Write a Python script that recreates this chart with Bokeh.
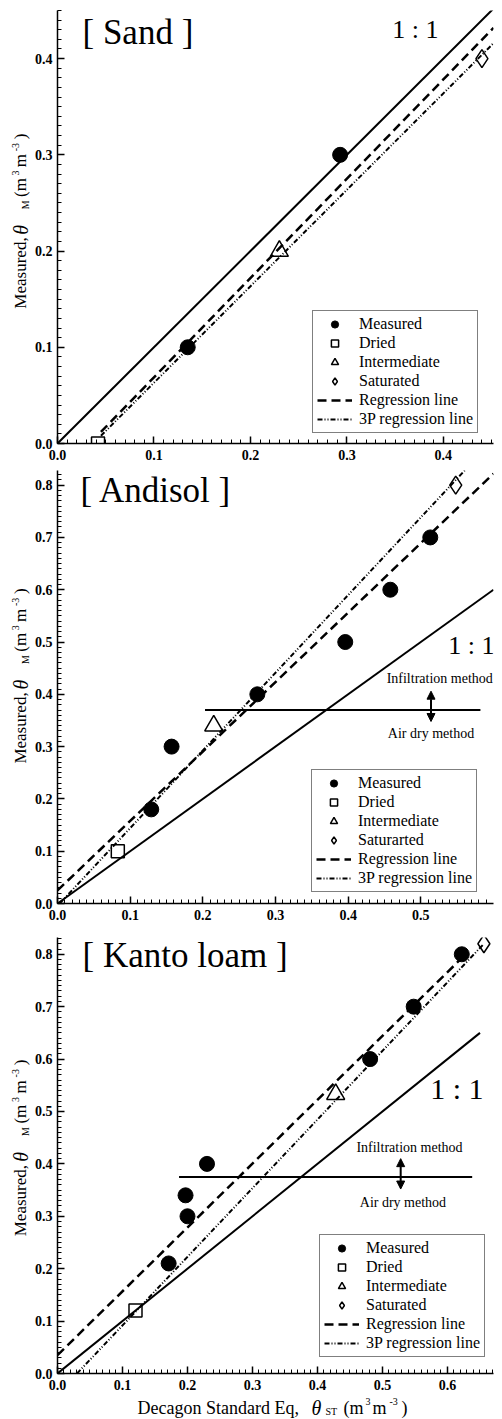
import math
from bokeh.plotting import figure
from bokeh.layouts import column, row
from bokeh.models import (Label, Legend, LegendItem, SingleIntervalTicker,
                          PrintfTickFormatter, Arrow, NormalHead)
from bokeh.embed import file_html
from bokeh.resources import INLINE

SERIF = "Liberation Serif"

# ---------------- data ----------------
# Sand
sand_meas_x = [0.135, 0.293]
sand_meas_y = [0.10, 0.30]
sand_dried_x = [0.042]
sand_dried_y = [0.0]
sand_inter_x = [0.230]
sand_inter_y = [0.20]
sand_sat_x = [0.440]
sand_sat_y = [0.40]
sand_one_x = [0.0, 0.452]
sand_one_y = [0.0, 0.452]
sand_reg_x = [0.045, 0.452]
sand_reg_y = [0.012, 0.432]
sand_3p_x = [0.045, 0.452]
sand_3p_y = [0.008, 0.416]

# Andisol
andi_meas_x = [0.129, 0.157, 0.275, 0.396, 0.458, 0.513]
andi_meas_y = [0.18, 0.30, 0.40, 0.50, 0.60, 0.70]
andi_dried_x = [0.083]
andi_dried_y = [0.10]
andi_inter_x = [0.215]
andi_inter_y = [0.34]
andi_sat_x = [0.548]
andi_sat_y = [0.80]
andi_one_x = [0.0, 0.6]
andi_one_y = [0.0, 0.6]
andi_reg_x = [0.0, 0.6]
andi_reg_y = [0.025, 0.822]
andi_3p_x = [0.003, 0.565]
andi_3p_y = [0.0, 0.835]
andi_hline_x = [0.203, 0.582]
andi_hline_y = [0.370, 0.370]

# Kanto loam
kanto_meas_x = [0.171, 0.197, 0.200, 0.230, 0.481, 0.548, 0.622]
kanto_meas_y = [0.21, 0.34, 0.30, 0.40, 0.60, 0.70, 0.80]
kanto_dried_x = [0.120]
kanto_dried_y = [0.12]
kanto_inter_x = [0.428]
kanto_inter_y = [0.533]
kanto_sat_x = [0.656]
kanto_sat_y = [0.82]
kanto_one_x = [0.0, 0.65]
kanto_one_y = [0.0, 0.65]
kanto_reg_x = [0.0, 0.632]
kanto_reg_y = [0.035, 0.805]
kanto_3p_x = [0.030, 0.656]
kanto_3p_y = [0.0, 0.82]
kanto_hline_x = [0.187, 0.638]
kanto_hline_y = [0.375, 0.375]

legend_labels_std = ["Measured", "Dried", "Intermediate", "Saturated",
                     "Regression line", "3P regression line"]
legend_labels_andi = ["Measured", "Dried", "Intermediate", "Saturarted",
                      "Regression line", "3P regression line"]

YLAB_W = 30
LEFT = 57
RIGHT = 9
W = 502


def blank_fig(width, height):
    f = figure(width=width, height=height, x_range=(0, width), y_range=(0, height),
               output_backend="svg", toolbar_location=None,
               x_axis_type=None, y_axis_type=None,
               min_border=0, min_border_left=0, min_border_right=0,
               min_border_top=0, min_border_bottom=0,
               background_fill_color="white", border_fill_color="white")
    f.outline_line_color = None
    f.xgrid.visible = False
    f.ygrid.visible = False
    return f


def ylabel_fig(height, top, bottom):
    f = blank_fig(YLAB_W, height)
    fh = height - top - bottom
    cy = top + fh / 2.0  # local y (from top) of frame centre
    # (text, px size, style, centre offset below frame centre, x centre)
    pieces = [("Measured,", 17, "normal", 56, 20),
              ("\u03b8", 20, "italic", 9.5, 20),
              ("M", 10, "normal", -17.5, 25),
              ("(m", 17, "normal", -36, 20),
              ("3", 10, "normal", -51.5, 15),
              ("m", 17, "normal", -65, 20),
              ("-3", 10, "normal", -79.5, 15),
              (")", 17, "normal", -91, 20)]
    for txt, sz, st, off, sx in pieces:
        f.add_layout(Label(x=sx, y=height - (cy + off), text=txt, angle=math.pi / 2,
                           text_font=SERIF, text_font_size=f"{sz}px",
                           text_font_style=st, text_align="center",
                           text_baseline="middle", text_color="black"))
    return f


def xlabel_fig(height):
    f = blank_fig(W, height)
    cyl = height / 2.0
    pieces = [("Decagon Standard Eq,", 18, "normal", 137, 0),
              ("\u03b8", 20, "italic", 311, 0),
              ("ST", 10, "normal", 325, 4),
              ("(m", 18, "normal", 343, 0),
              ("3", 10, "normal", 365, -6),
              ("m", 18, "normal", 372, 0),
              ("-3", 10, "normal", 389, -6),
              (")", 18, "normal", 401, 0)]
    for txt, sz, st, sx, shift in pieces:
        f.add_layout(Label(x=sx, y=height - (cyl + shift), text=txt,
                           text_font=SERIF, text_font_size=f"{sz}px",
                           text_font_style=st, text_align="left",
                           text_baseline="middle", text_color="black"))
    return f


def make_panel(spec):
    left = LEFT - YLAB_W
    top, bottom = spec["top"], spec["bottom"]
    H = spec["height"]
    Wp = W - YLAB_W
    x0, x1 = spec["xr"]
    y0, y1 = spec["yr"]
    fw = Wp - left - RIGHT
    fh = H - top - bottom
    fb = H - bottom

    def dx(sx):  # sx = page x
        return x0 + (sx - LEFT) * (x1 - x0) / fw

    def dy(sy):  # sy = local y from top
        return y0 + (fb - sy) * (y1 - y0) / fh

    p = figure(width=Wp, height=H, x_range=(x0, x1), y_range=(y0, y1),
               output_backend="svg", toolbar_location=None,
               min_border_left=left, min_border_right=RIGHT,
               min_border_top=top, min_border_bottom=bottom,
               background_fill_color="white", border_fill_color="white")
    p.outline_line_color = None
    p.xgrid.visible = False
    p.ygrid.visible = False
    for ax in (p.xaxis[0], p.yaxis[0]):
        ax.ticker = SingleIntervalTicker(interval=0.1, num_minor_ticks=10)
        ax.formatter = PrintfTickFormatter(format="%.1f")
        ax.axis_line_width = 1.5
        ax.axis_line_color = "black"
        ax.major_tick_line_width = 1.5
        ax.major_tick_line_color = "black"
        ax.minor_tick_line_color = "black"
        ax.minor_tick_line_width = 1
        ax.major_tick_in = 7
        ax.major_tick_out = 0
        ax.minor_tick_in = 4
        ax.minor_tick_out = 0
        ax.major_label_text_font = SERIF
        ax.major_label_text_font_size = "14px"
        ax.major_label_text_font_style = "bold"
        ax.major_label_text_color = "black"
    p.xaxis.major_label_standoff = 6
    p.yaxis.major_label_standoff = 5

    r_one = p.line(spec["one"][0], spec["one"][1], line_color="black", line_width=2)
    r_reg = p.line(spec["reg"][0], spec["reg"][1], line_color="black",
                   line_width=2.5, line_dash="9 5")
    r_3p = p.line(spec["p3"][0], spec["p3"][1], line_color="black",
                  line_width=2, line_dash="5 2 1 2 1 2")
    if "hline" in spec:
        p.line(spec["hline"][0], spec["hline"][1], line_color="black", line_width=2)

    r_meas = p.scatter(spec["meas"][0], spec["meas"][1], marker="circle", size=15,
                       fill_color="black", line_color="black")
    r_dried = p.scatter(spec["dried"][0], spec["dried"][1], marker="square", size=13,
                        fill_color=None, line_color="black", line_width=1.5)
    r_inter = p.scatter(spec["inter"][0], spec["inter"][1], marker="triangle", size=18,
                        fill_color=None, line_color="black", line_width=1.5)
    r_sat = p.scatter(spec["sat"][0], spec["sat"][1], marker="diamond", size=18,
                      fill_color=None, line_color="black", line_width=1.5)

    labels = spec["legend_labels"]
    rends = [r_meas, r_dried, r_inter, r_sat, r_reg, r_3p]
    legend = Legend(items=[LegendItem(label=l, renderers=[r]) for l, r in zip(labels, rends)],
                    location=spec["legend_loc"], glyph_width=35, glyph_height=18,
                    label_height=18, label_standoff=7, spacing=1, padding=4,
                    margin=0, border_line_color="black", border_line_width=1.5,
                    label_text_font=SERIF, label_text_font_size="16px",
                    label_text_color="black", background_fill_color="white",
                    background_fill_alpha=1.0)
    p.add_layout(legend)

    tx, ty = spec["title_pos"]
    p.add_layout(Label(x=dx(tx), y=dy(ty), text=spec["title"], text_font=SERIF,
                       text_font_size="35px", text_align="left",
                       text_baseline="middle", text_color="black"))
    ox, oy, osz = spec["one_pos"]
    p.add_layout(Label(x=dx(ox), y=dy(oy), text="1 : 1", text_font=SERIF,
                       text_font_size=osz, text_align="right",
                       text_baseline="middle", text_color="black"))

    if "arrow" in spec:
        (ax_, ay0, ay1) = spec["arrow"]
        p.add_layout(Arrow(x_start=ax_, y_start=ay0, x_end=ax_, y_end=ay1,
                           line_width=2, line_color="black",
                           start=NormalHead(size=8, fill_color="black", line_color="black"),
                           end=NormalHead(size=8, fill_color="black", line_color="black")))
        ix, iy = spec["infil_pos"]
        p.add_layout(Label(x=ix, y=iy, text="Infiltration method", text_font=SERIF,
                           text_font_size="14px", text_align="center",
                           text_baseline="middle", text_color="black"))
        ax2, ay2 = spec["air_pos"]
        p.add_layout(Label(x=ax2, y=ay2, text="Air dry method", text_font=SERIF,
                           text_font_size="14px", text_align="center",
                           text_baseline="middle", text_color="black"))
    return p


sand = dict(height=466, top=10, bottom=23, xr=(0.0, 0.452), yr=(0.0, 0.45),
            meas=(sand_meas_x, sand_meas_y), dried=(sand_dried_x, sand_dried_y),
            inter=(sand_inter_x, sand_inter_y), sat=(sand_sat_x, sand_sat_y),
            one=(sand_one_x, sand_one_y), reg=(sand_reg_x, sand_reg_y),
            p3=(sand_3p_x, sand_3p_y), legend_labels=legend_labels_std,
            legend_loc=(255, 10), title="[ Sand ]", title_pos=(82, 32),
            one_pos=(438, 29, "26px"))

andi = dict(height=465, top=4, bottom=28, xr=(0.0, 0.6), yr=(0.0, 0.828),
            meas=(andi_meas_x, andi_meas_y), dried=(andi_dried_x, andi_dried_y),
            inter=(andi_inter_x, andi_inter_y), sat=(andi_sat_x, andi_sat_y),
            one=(andi_one_x, andi_one_y), reg=(andi_reg_x, andi_reg_y),
            p3=(andi_3p_x, andi_3p_y), hline=(andi_hline_x, andi_hline_y),
            arrow=(0.514, 0.406, 0.348), infil_pos=(0.526, 0.430),
            air_pos=(0.514, 0.325),
            legend_labels=legend_labels_andi,
            legend_loc=(254, 11), title="[ Andisol ]", title_pos=(80, 24),
            one_pos=(494, 179, "26px"))

kanto = dict(height=464, top=6, bottom=22, xr=(0.0, 0.6708), yr=(0.0, 0.832),
             meas=(kanto_meas_x, kanto_meas_y), dried=(kanto_dried_x, kanto_dried_y),
             inter=(kanto_inter_x, kanto_inter_y), sat=(kanto_sat_x, kanto_sat_y),
             one=(kanto_one_x, kanto_one_y), reg=(kanto_reg_x, kanto_reg_y),
             p3=(kanto_3p_x, kanto_3p_y), hline=(kanto_hline_x, kanto_hline_y),
             arrow=(0.528, 0.410, 0.352), infil_pos=(0.5415, 0.432),
             air_pos=(0.5315, 0.327),
             legend_labels=legend_labels_std,
             legend_loc=(262, 16), title="[ Kanto loam ]", title_pos=(82, 24),
             one_pos=(483, 157, "30px"))

rows = []
for spec in (sand, andi, kanto):
    p = make_panel(spec)
    yl = ylabel_fig(spec["height"], spec["top"], spec["bottom"])
    rows.append(row(yl, p, spacing=0))

xl = xlabel_fig(24)
layout = column(*rows, xl, spacing=0)
open("out.html", "w").write(file_html(layout, INLINE))
